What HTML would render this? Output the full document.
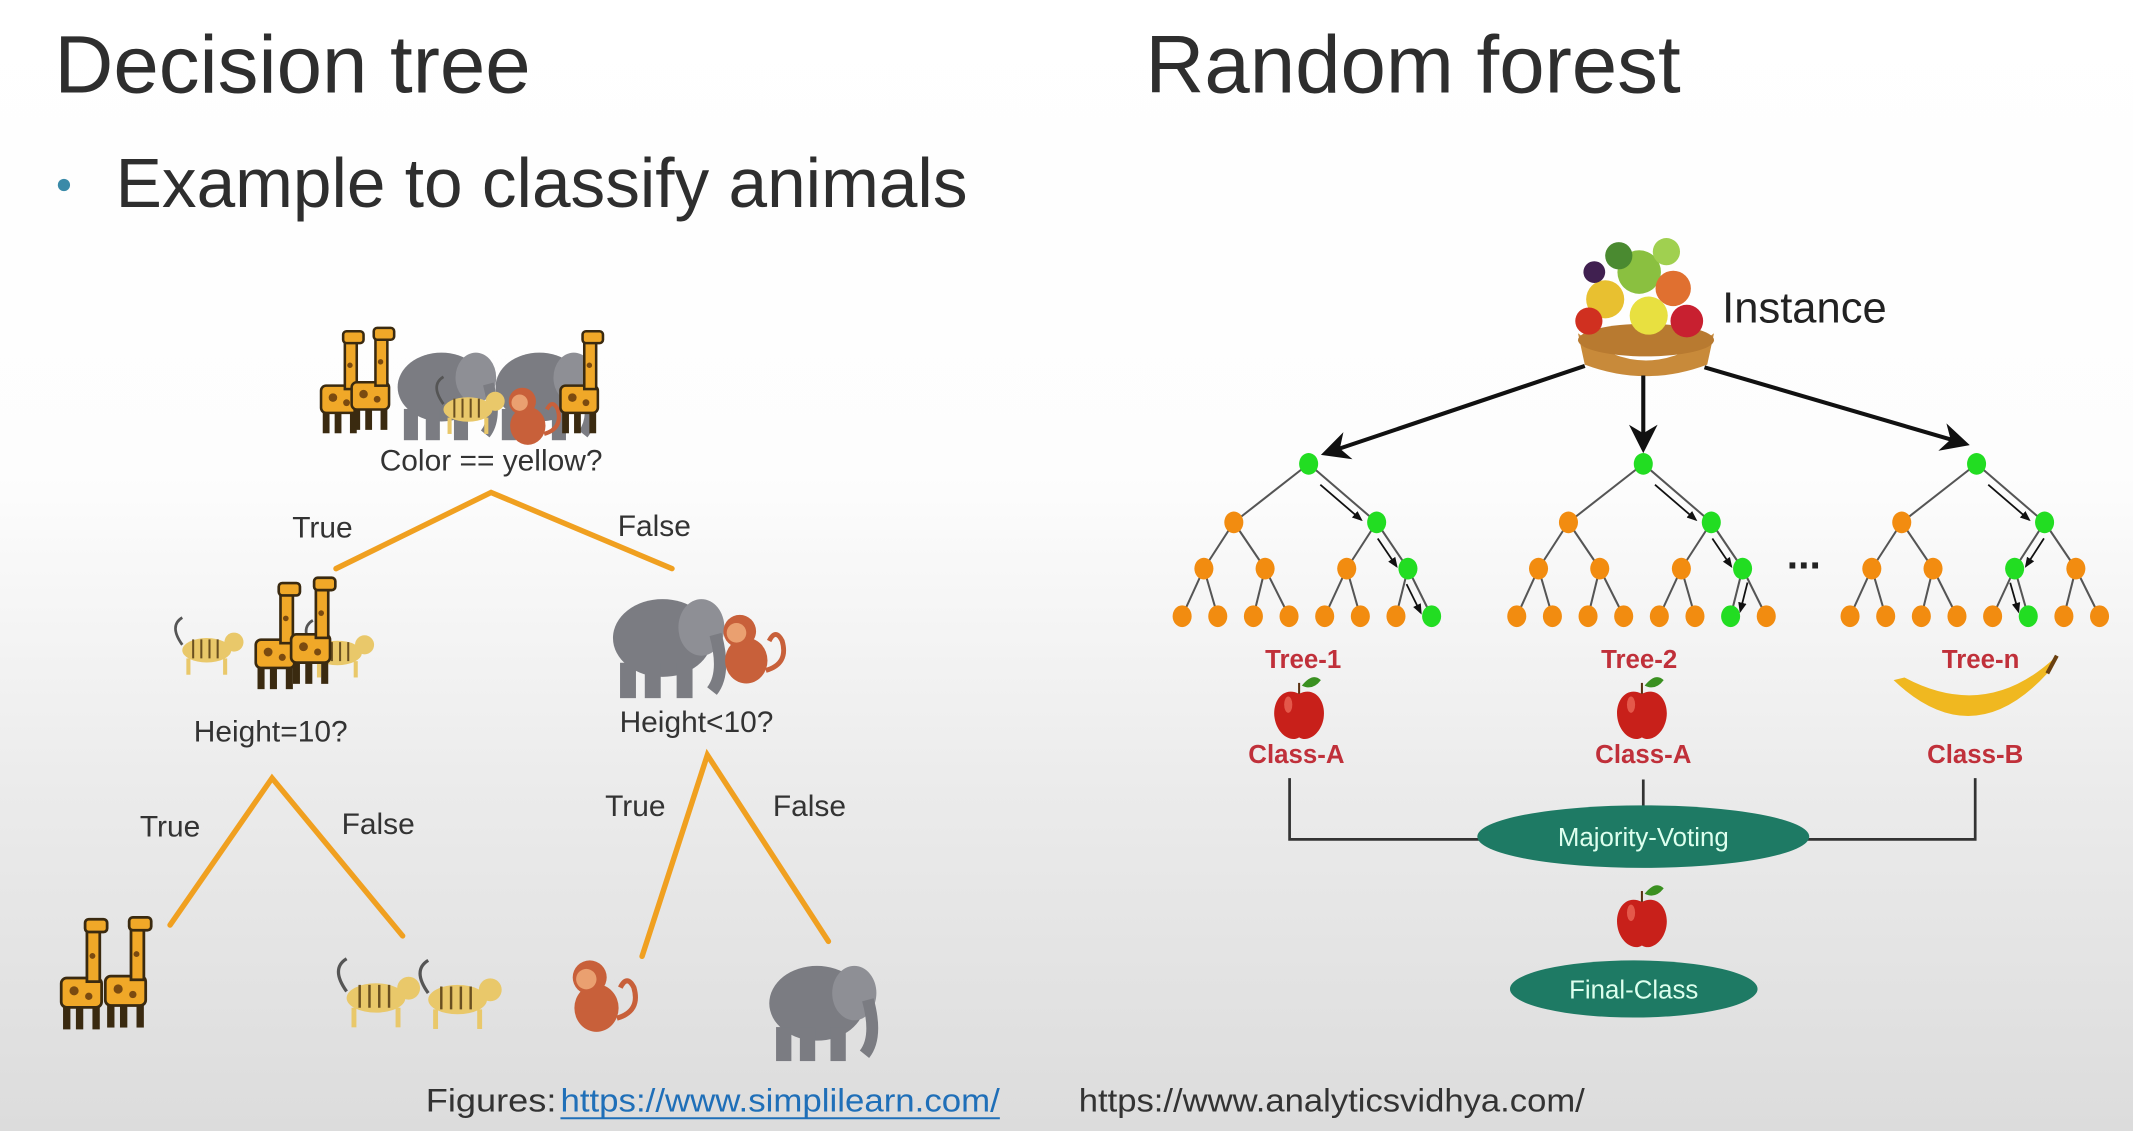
<!DOCTYPE html>
<html><head><meta charset="utf-8"><style>
html,body{margin:0;padding:0;width:2133px;height:1131px;overflow:hidden}
svg{display:block}
text{font-family:"Liberation Sans",sans-serif}
</style></head><body>
<svg width="2133" height="1131" viewBox="0 0 1568 831.4" preserveAspectRatio="none" xmlns="http://www.w3.org/2000/svg">
<defs>
<linearGradient id="bg" x1="0" y1="0" x2="0" y2="1">
<stop offset="0" stop-color="#ffffff"/><stop offset="0.42" stop-color="#fdfdfd"/><stop offset="0.7" stop-color="#ebebeb"/><stop offset="1" stop-color="#dcdcdc"/>
</linearGradient>
<marker id="ah" viewBox="0 0 10 10" refX="8" refY="5" markerWidth="7" markerHeight="7" orient="auto"><path d="M0,0 L10,5 L0,10 L3,5 z" fill="#111"/></marker>
<marker id="sa" viewBox="0 0 10 10" refX="8" refY="5" markerWidth="6" markerHeight="6" orient="auto"><path d="M0,1 L10,5 L0,9 z" fill="#111"/></marker>
<g id="giraffe"><rect x="0" y="14" width="22" height="16" rx="3" fill="#f0a828" stroke="#3a2a10" stroke-width="1.5"/><rect x="14" y="-14" width="7" height="30" fill="#f0a828" stroke="#3a2a10" stroke-width="1.5"/><rect x="13" y="-18" width="12" height="7" rx="2" fill="#f0a828" stroke="#3a2a10" stroke-width="1.5"/><rect x="1" y="30" width="4" height="12" fill="#3a2a10"/><rect x="8" y="30" width="4" height="12" fill="#3a2a10"/><rect x="17" y="30" width="4" height="12" fill="#3a2a10"/><circle cx="7" cy="21" r="2.5" fill="#7a4a10"/><circle cx="15" cy="24" r="2" fill="#7a4a10"/><circle cx="17" cy="2" r="1.6" fill="#7a4a10"/></g>
<g id="eleph"><ellipse cx="30" cy="30" rx="28" ry="22" fill="#7b7c82"/><ellipse cx="52" cy="24" rx="13" ry="16" fill="#8e8f95"/><path d="M60,28 Q66,50 58,60" stroke="#7b7c82" stroke-width="7" fill="none"/><rect x="6" y="44" width="9" height="20" fill="#7b7c82"/><rect x="20" y="44" width="9" height="20" fill="#7b7c82"/><rect x="38" y="44" width="9" height="20" fill="#7b7c82"/></g>
<g id="tiger"><ellipse cx="22" cy="18" rx="18" ry="9" fill="#e9c86a"/><circle cx="42" cy="12" r="7" fill="#e9c86a"/><path d="M4,14 Q-6,0 4,-6" stroke="#555" stroke-width="2" fill="none"/><path d="M12,10 v14 M18,10 v14 M24,10 v14 M30,10 v14" stroke="#6a5020" stroke-width="1.5"/><rect x="7" y="24" width="3" height="12" fill="#e9c86a"/><rect x="34" y="24" width="3" height="12" fill="#e9c86a"/></g>
<g id="monkey"><ellipse cx="18" cy="28" rx="13" ry="14" fill="#c8603a"/><circle cx="14" cy="10" r="10" fill="#c8603a"/><circle cx="12" cy="11" r="6" fill="#eaa070"/><path d="M30,34 Q44,30 40,16 Q36,8 32,16" stroke="#c8603a" stroke-width="3" fill="none"/></g>
<g id="apple"><path d="M0,-14 C-12,-20 -20,-8 -18,4 C-16,16 -6,22 0,18 C6,22 16,16 18,4 C20,-8 12,-20 0,-14 z" fill="#c8201a"/><ellipse cx="-8" cy="-6" rx="3" ry="6" fill="#f07060" opacity="0.7"/><path d="M0,-14 v-8" stroke="#5a3010" stroke-width="1.5"/><path d="M2,-20 Q10,-30 16,-24 Q10,-16 2,-20 z" fill="#3a9020"/></g>
</defs>
<rect width="1568" height="832" fill="url(#bg)"/>

<text x="40" y="68" font-size="60" fill="#2e2e2e">Decision tree</text>
<text x="842" y="68" font-size="60" fill="#2e2e2e">Random forest</text>
<circle cx="47" cy="136" r="4.5" fill="#3a8aa8"/>
<text x="85" y="152" font-size="51" fill="#2e2e2e">Example to classify animals</text>

<g stroke="#f0a020" stroke-width="4" fill="none" stroke-linecap="round">
<path d="M247,418 L361,362 L494,418"/>
<path d="M125,680 L200,572 L296,688"/>
<path d="M472,703 L520,555 L609,692"/>
</g>
<g font-size="22" fill="#333" text-anchor="middle">
<text x="361" y="346">Color == yellow?</text>
<text x="237" y="395">True</text>
<text x="481" y="394">False</text>
<text x="199" y="545">Height=10?</text>
<text x="512" y="538">Height&lt;10?</text>
<text x="125" y="615">True</text>
<text x="278" y="613">False</text>
<text x="467" y="600">True</text>
<text x="595" y="600">False</text>
</g>
<g transform="translate(236,266) scale(1.25)"><use href="#giraffe" x="0" y="0"/><use href="#giraffe" x="18" y="-2"/></g>
<g transform="translate(290,250) scale(1.15)"><use href="#eleph"/></g>
<g transform="translate(362,250) scale(1.15)"><use href="#eleph"/></g>
<use href="#tiger" x="322" y="283"/>
<use href="#monkey" x="370" y="285"/>
<g transform="translate(412,266) scale(1.25)"><use href="#giraffe"/></g>
<use href="#tiger" x="130" y="460"/><use href="#tiger" x="226" y="462"/>
<g transform="translate(188,452) scale(1.3)"><use href="#giraffe"/><use href="#giraffe" x="20" y="-3"/></g>
<g transform="translate(448,430) scale(1.3)"><use href="#eleph"/></g>
<g transform="translate(527,452) scale(1.2)"><use href="#monkey"/></g>
<g transform="translate(45,700) scale(1.35)"><use href="#giraffe"/><use href="#giraffe" x="24" y="-1"/></g>
<g transform="translate(250,712) scale(1.2)"><use href="#tiger"/><use href="#tiger" x="50" y="1"/></g>
<g transform="translate(416,706) scale(1.25)"><use href="#monkey"/></g>
<g transform="translate(563,700) scale(1.25)"><use href="#eleph"/></g>

<text x="313" y="817" font-size="24" fill="#333" textLength="96" lengthAdjust="spacingAndGlyphs">Figures:</text>
<text x="412" y="817" font-size="24" fill="#1f6fb8" textLength="323" lengthAdjust="spacingAndGlyphs">https://www.simplilearn.com/</text>
<line x1="412" y1="822" x2="735" y2="822" stroke="#1f6fb8" stroke-width="1.5"/>
<text x="793" y="817" font-size="24" fill="#333" textLength="372" lengthAdjust="spacingAndGlyphs">https://www.analyticsvidhya.com/</text>

<g>
<path d="M1160,245 Q1210,285 1260,245 L1255,268 Q1210,285 1165,268 z" fill="#c88a3a"/>
<ellipse cx="1210" cy="250" rx="50" ry="12" fill="#b87a30"/>
<circle cx="1180" cy="220" r="14" fill="#e8c030"/><circle cx="1205" cy="200" r="16" fill="#8ac040"/><circle cx="1230" cy="212" r="13" fill="#e07030"/><circle cx="1212" cy="232" r="14" fill="#e8e040"/><circle cx="1168" cy="236" r="10" fill="#d03020"/><circle cx="1240" cy="236" r="12" fill="#c82030"/><circle cx="1190" cy="188" r="10" fill="#4a8a30"/><circle cx="1225" cy="185" r="10" fill="#a0d050"/><circle cx="1172" cy="200" r="8" fill="#402050"/>
</g>
<text x="1266" y="237" font-size="32" fill="#222">Instance</text>
<g stroke="#111" stroke-width="3" fill="none" marker-end="url(#ah)">
<line x1="1165" y1="269" x2="975" y2="333"/>
<line x1="1208" y1="276" x2="1208" y2="329"/>
<line x1="1253" y1="270" x2="1444" y2="326"/>
</g>
<g id="forest"></g>
<text x="1326" y="418" font-size="30" font-weight="bold" fill="#222" text-anchor="middle">...</text>
<g font-size="19" font-weight="bold" fill="#c0303a" text-anchor="middle">
<text x="958" y="491">Tree-1</text><text x="1205" y="491">Tree-2</text><text x="1456" y="491">Tree-n</text>
<text x="953" y="561">Class-A</text><text x="1208" y="561">Class-A</text><text x="1452" y="561">Class-B</text>
</g>
<use href="#apple" x="955" y="524"/><use href="#apple" x="1207" y="524"/><use href="#apple" x="1207" y="677"/>
<path d="M1392,500 Q1450,555 1505,495 L1510,484 Q1460,530 1400,498 z" fill="#f0b820"/>
<path d="M1505,495 L1512,482" stroke="#6a4010" stroke-width="3"/>
<g stroke="#333" stroke-width="2" fill="none">
<path d="M948,572 V617 H1090"/><path d="M1452,572 V617 H1326"/><path d="M1208,573 V595"/>
</g>
<ellipse cx="1208" cy="615" rx="122" ry="23" fill="#1e7a64"/>
<text x="1208" y="622" font-size="19" fill="#dfe" text-anchor="middle">Majority-Voting</text>
<ellipse cx="1201" cy="727" rx="91" ry="21" fill="#1e7a64"/>
<text x="1201" y="734" font-size="19" fill="#dfe" text-anchor="middle">Final-Class</text>
</svg>
<script>
(function(){
var ns="http://www.w3.org/2000/svg",g=document.getElementById("forest");
function el(n,a){var e=document.createElementNS(ns,n);for(var k in a)e.setAttribute(k,a[k]);g.appendChild(e);return e;}
var trees=[{x:962,l3:3,lf:7},{x:1208,l3:3,lf:6},{x:1453,l3:2,lf:5}];
trees.forEach(function(t){
 var ox=t.x-962;
 var r=[t.x,341],l2=[[907+ox,384],[1012+ox,384]],l3=[[885,418],[930,418],[990,418],[1035,418]].map(function(p){return[p[0]+ox,p[1]]});
 var lf=[];for(var i=0;i<8;i++)lf.push([869+ox+i*26.2,453]);
 var G="#22dd22",O="#f28c10";
 function ln(a,b){el("line",{x1:a[0],y1:a[1],x2:b[0],y2:b[1],stroke:"#555","stroke-width":1.5});}
 l2.forEach(function(p){ln(r,p)});
 l3.forEach(function(p,i){ln(l2[i>>1],p)});
 lf.forEach(function(p,i){ln(l3[i>>1],p)});
 var path=[r,l2[1],l3[t.l3],lf[t.lf]];
 for(var k=0;k<3;k++){var a=path[k],b=path[k+1],dx=b[0]-a[0],dy=b[1]-a[1],L=Math.hypot(dx,dy),nx=-dy/L,ny=dx/L,off=6*(dx>=0?1:-1);
  el("line",{x1:a[0]+dx*0.25+nx*off,y1:a[1]+dy*0.25+ny*off,x2:a[0]+dx*0.85+nx*off,y2:a[1]+dy*0.85+ny*off,stroke:"#111","stroke-width":1.3,"marker-end":"url(#sa)"});}
 function nd(p,gr){el("ellipse",{cx:p[0],cy:p[1],rx:7,ry:8,fill:gr?G:O});}
 nd(r,1);l2.forEach(function(p,i){nd(p,i==1)});l3.forEach(function(p,i){nd(p,i==t.l3)});lf.forEach(function(p,i){nd(p,i==t.lf)});
});
})();
</script>
</body></html>
